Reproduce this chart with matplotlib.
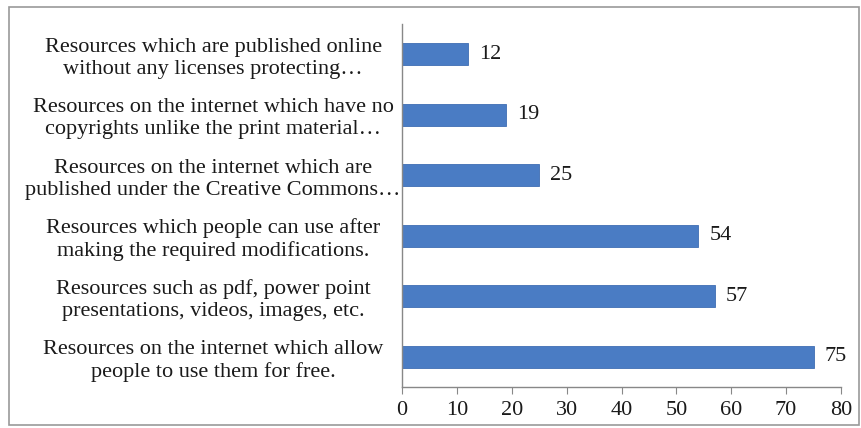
import matplotlib.pyplot as plt
from matplotlib.patches import Rectangle

categories = [
    "Resources which are published online\nwithout any licenses protecting\u2026",
    "Resources on the internet which have no\ncopyrights unlike the print material\u2026",
    "Resources on the internet which are\npublished under the Creative Commons\u2026",
    "Resources which people can use after\nmaking the required modifications.",
    "Resources such as pdf, power point\npresentations, videos, images, etc.",
    "Resources on the internet which allow\npeople to use them for free.",
]
values = [12, 19, 25, 54, 57, 75]
xticks = [0, 10, 20, 30, 40, 50, 60, 70, 80]

plt.rcParams['font.family'] = ['Liberation Serif', 'DejaVu Serif']

fig = plt.figure(figsize=(8.62, 4.28), dpi=100)
ax = fig.add_axes([0.4664, 0.0958, 0.5092, 0.8482])

pos = list(range(len(categories)))
ax.barh(pos, values, height=0.37, color='#4A7CC4', edgecolor='#3F6DB3', linewidth=0.6)

for p, v in zip(pos, values):
    ax.text(v + 2, p, str(v), va='center', ha='left', fontsize=16, color='#1a1a1a')

ax.set_ylim(-0.5, len(categories) - 0.5)
ax.invert_yaxis()
ax.set_xlim(0, 80)
ax.set_xticks(xticks)
ax.set_yticks(pos)
ax.set_yticklabels(categories, fontsize=16, ha='center', color='#1a1a1a', linespacing=1.2)
ax.tick_params(axis='y', length=0, pad=136)
ax.tick_params(axis='x', length=5, color='#888888', labelsize=16, labelcolor='#1a1a1a', pad=5)

for s in ['top', 'right']:
    ax.spines[s].set_visible(False)
for s in ['left', 'bottom']:
    ax.spines[s].set_color('#888888')
    ax.spines[s].set_linewidth(1)

# outer frame around the chart area
fig.patches.append(Rectangle((0.011, 0.008), 0.985, 0.975, transform=fig.transFigure,
                             fill=False, edgecolor='#999999', linewidth=1.2))

fig.savefig('out.png', dpi=100)
